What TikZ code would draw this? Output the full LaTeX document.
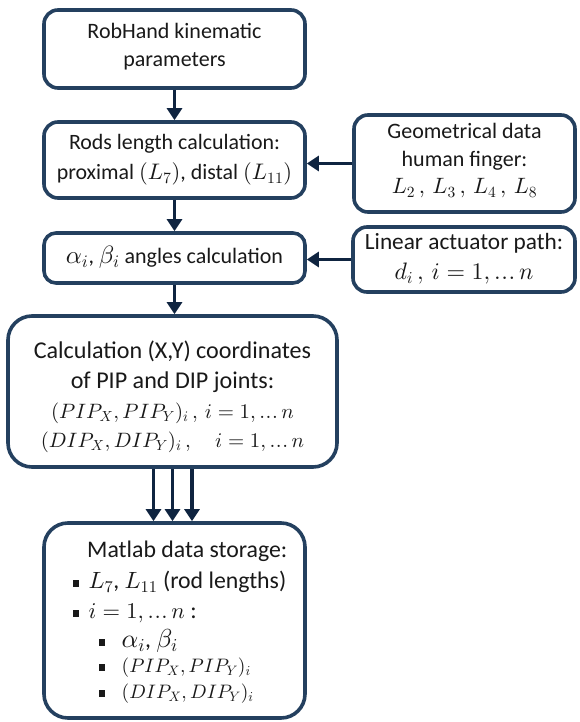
\documentclass[tikz,border=0pt]{standalone}
\DeclareFontShape{OML}{cmm}{m}{it}{<-6>cmmi5<6-7>cmmi6<7-8>cmmi7<8-9>cmmi8<9-10>cmmi9<10->cmmi10}{\skewchar\font=127}
\DeclareFontShape{OT1}{cmr}{m}{n}{<-6>cmr5<6-7>cmr6<7-8>cmr7<8-9>cmr8<9-10>cmr9<10->cmr10}{}
\DeclareFontShape{OMS}{cmsy}{m}{n}{<-6>cmsy5<6-7>cmsy6<7-8>cmsy7<8-9>cmsy8<9-10>cmsy9<10->cmsy10}{\skewchar\font=48}
\DeclareFontShape{OMX}{cmex}{m}{n}{<->cmex10}{}
\usepackage{fontspec}
\setmainfont{Carlito}
\usetikzlibrary{arrows.meta}
\definecolor{bord}{HTML}{24405F}
\definecolor{arr}{HTML}{0F2440}
\newcommand\sqb{\rule[2pt]{5.5pt}{6.5pt}}
\newcommand\dd{\mathinner{.\kern0.6pt.\kern0.6pt.}}
\newcommand\ms[2]{{\fontsize{#1}{#1}\selectfont\mathversion{normal}$#2$}}
\begin{document}
\begin{tikzpicture}[x=1pt,y=-1pt,
  box/.style={draw=bord, line width=3.6pt, rounded corners=14pt, fill=white, inner sep=0pt},
  bigbox/.style={box, rounded corners=24pt},
  lbl/.style={align=center, inner sep=0pt, text=black!90},
  arrow/.style={draw=arr, line width=3.8pt, -{Triangle[width=15pt,length=12pt]}}]
\useasboundingbox (0,0) rectangle (579,722);

\node[box, minimum width=261pt, minimum height=78pt] (b1) at (174.5,49) {};
\node[lbl, font=\fontsize{22}{28}\selectfont] (t1) at (174.5,47) {RobHand kinematic\\parameters};

\node[box, minimum width=261pt, minimum height=76pt] (b2) at (174.5,160) {};
\node[lbl, font=\fontsize{21.9}{30}\selectfont] (t2) at (174.5,160) {Rods length calculation:\\proximal \ms{22.5}{(L_7)}, distal \ms{22.5}{(L_{11})}};

\node[box, minimum width=221pt, minimum height=97pt] (geo) at (464.5,163.5) {};
\node[lbl, font=\fontsize{22}{27.5}\selectfont] (tgeo) at (464.5,161) {Geometrical data\\human finger:\\\ms{22.2}{L_2\,,\,L_3\,,\,L_4\,,\,L_8}};

\node[box, rounded corners=12pt, minimum width=261pt, minimum height=50pt] (b3) at (174.5,258) {};
\node[lbl, font=\fontsize{22}{28}\selectfont] (t3) at (174.5,257) {\ms{25}{\alpha_i}, \ms{25}{\beta_i} angles calculation};

\node[box, minimum width=222pt, minimum height=65pt] (lin) at (464,259.5) {};
\node[lbl, font=\fontsize{23.3}{30}\selectfont] (tlin) at (464,259) {Linear actuator path:\\\ms{23.8}{d_i\,,\,i=1,\dd n}};

\node[bigbox, minimum width=329pt, minimum height=151pt] (b4) at (172.5,391.5) {};
\node[lbl, font=\fontsize{24.1}{29.7}\selectfont] (t4) at (172.5,397) {Calculation (X,Y) coordinates\\of PIP and DIP joints:\\\ms{20.8}{(PIP_X,PIP_Y)_i\,,\,i=1,\dd n}\\\ms{20.8}{(DIP_X,DIP_Y)_i\,,\quad i=1,\dd n}};

\node[bigbox, minimum width=261pt, minimum height=195pt] (b5) at (174.5,620.5) {};
\node[lbl, align=left, anchor=north west, font=\fontsize{23.8}{30}\selectfont] (t5) at (73,541) {%
\hspace*{14pt}Matlab data storage:\\[1pt]
\sqb\hspace{10pt}\ms{23.5}{L_7}, \ms{23.5}{L_{11}} (rod lengths)\\[0pt]
\sqb\hspace{10pt}\ms{22.5}{i=1,\dd n} :\\[-1pt]
\hspace*{26pt}\sqb\hspace{17pt}\ms{26}{\alpha_i}, \ms{26}{\beta_i}\\[-5pt]
\hspace*{26pt}\sqb\hspace{17pt}\ms{19.5}{(PIP_X,PIP_Y)_i}\\[-4pt]
\hspace*{26pt}\sqb\hspace{17pt}\ms{19.5}{(DIP_X,DIP_Y)_i}};

\draw[arrow] (b1.south) -- (b2.north);
\draw[arrow] (b2.south) -- (b3.north);
\draw[arrow] (b3.south) -- (b4.north -| b3.south);
\draw[arrow] (geo.west) -- (geo.west -| b2.east);
\draw[arrow] (lin.west) -- (lin.west -| b3.east);
\draw[arrow] ([xshift=-21pt]b5.north |- b4.south) -- ([xshift=-21pt]b5.north);
\draw[arrow] ([xshift=-2pt]b5.north |- b4.south) -- ([xshift=-2pt]b5.north);
\draw[arrow] ([xshift=17.5pt]b5.north |- b4.south) -- ([xshift=17.5pt]b5.north);
\end{tikzpicture}
\end{document}
